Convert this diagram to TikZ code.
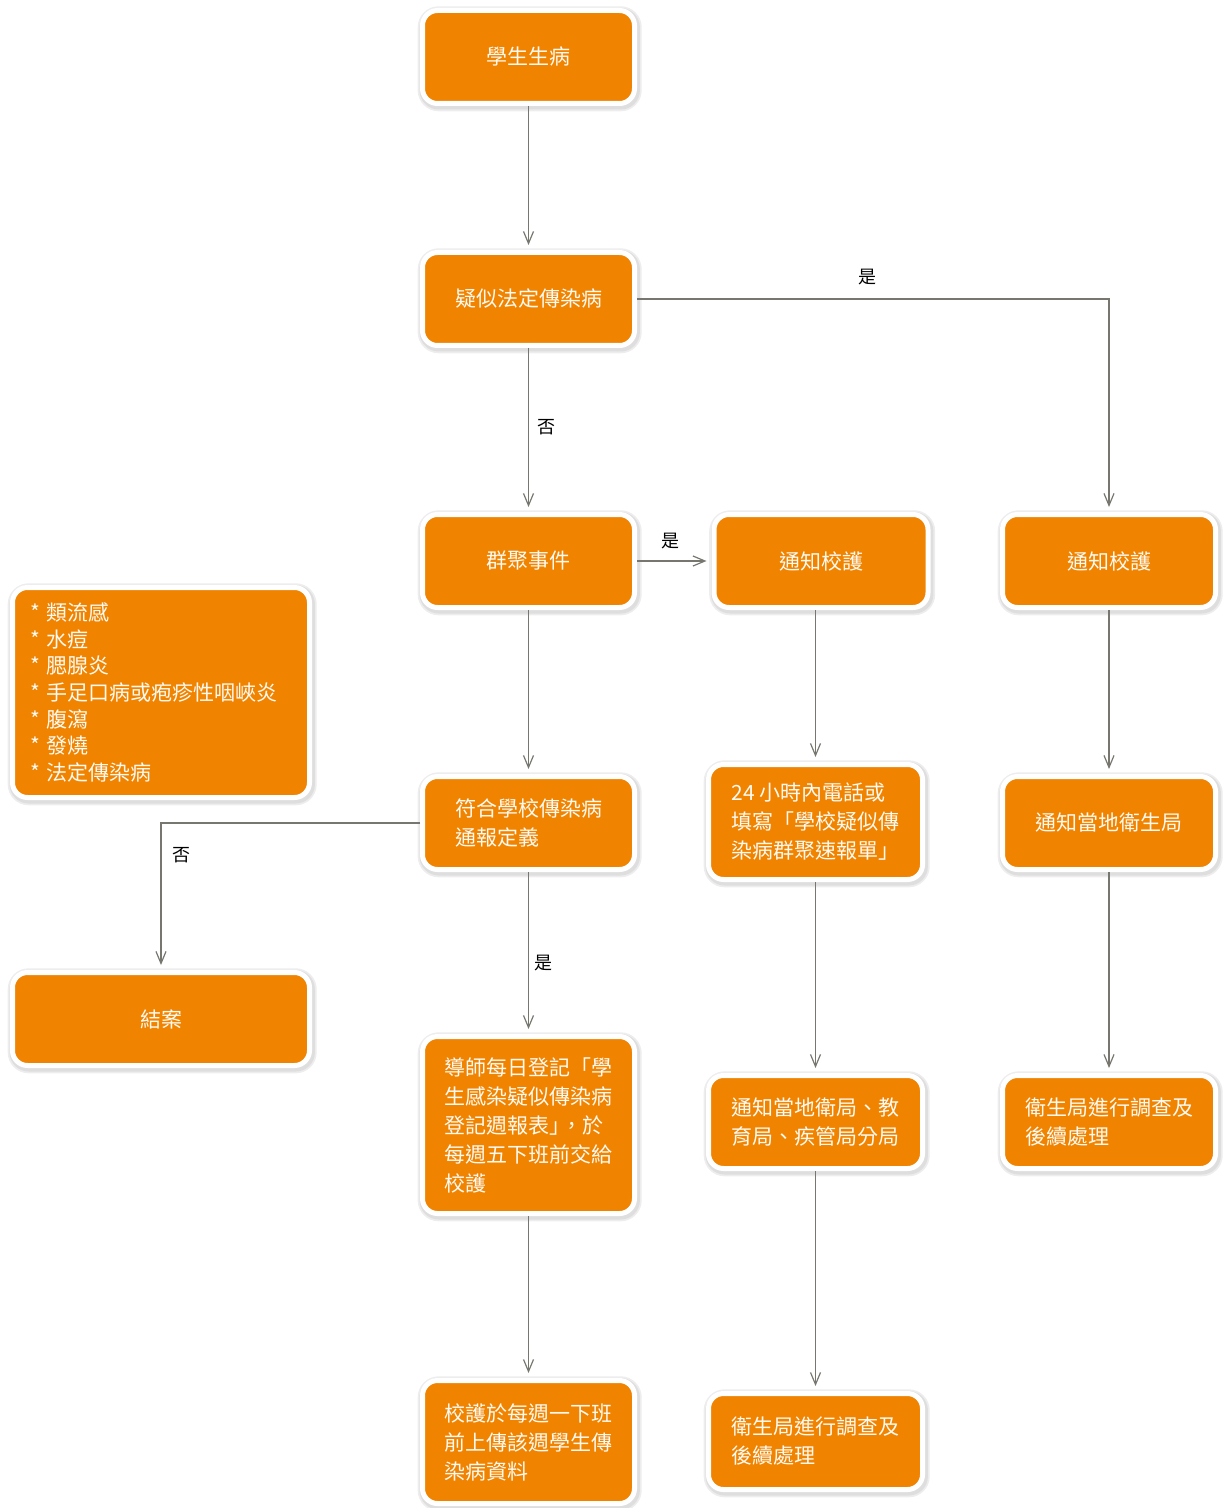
\documentclass[tikz,border=0pt]{standalone}
\usepackage{fontspec}
\setmainfont{Noto Sans CJK TC}
\usepackage{tikz}
\usetikzlibrary{arrows.meta, positioning, shadows}
\definecolor{boxfill}{HTML}{F08300}
\definecolor{linegray}{HTML}{77776F}
\definecolor{boxtext}{HTML}{FFFAF2}
\tikzset{
  flowbox/.style={draw=white, line width=2.5pt, fill=boxfill, rounded corners=7.5pt,
    text=boxtext, font=\fontsize{10.5}{14.5}\selectfont, align=left, inner sep=0pt,
    minimum width=106pt, minimum height=46.5pt,
    general shadow={fill=black!7, draw=black!7, line width=6pt, shadow xshift=0.6pt, shadow yshift=-0.9pt},
    general shadow={fill=black!13, draw=black!13, line width=4.2pt, shadow xshift=0.6pt, shadow yshift=-0.9pt}},
  listbox/.style={flowbox, font=\fontsize{10.5}{13.3}\selectfont, text width=131pt, minimum width=148.5pt, minimum height=105pt},
  flowarrow/.style={draw=linegray, line width=0.6pt, -{Straight Barb[length=6pt, width=5pt]}, shorten >=2.5pt},
  flowlabel/.style={font=\fontsize{9}{10}\selectfont, text=black},
}

\begin{document}
\begin{tikzpicture}[x=0.5pt, y=-0.5pt]
    \useasboundingbox (0,0) rectangle (1224,1508);
    % Centre column
    \node[flowbox] (sick) at (528.5,57) {學生生病};
    \node[flowbox] (suspect) at (528.5,299) {疑似法定傳染病};
    \node[flowbox] (cluster) at (528.5,561) {群聚事件};
    \node[flowbox] (define) at (528.5,823) {符合學校傳染病\\通報定義};
    \node[flowbox, minimum height=88.5pt] (tutor) at (528.5,1125) {導師每日登記「學\\生感染疑似傳染病\\登記週報表」\kern-0.45em，於\\每週五下班前交給\\校護};
    \node[flowbox, minimum height=61.5pt] (nurse) at (528.5,1442) {校護於每週一下班\\前上傳該週學生傳\\染病資料};
    % Middle column
    \node[flowbox, minimum width=107pt] (notifyA) at (821,561) {通知校護};
    \node[flowbox, minimum width=107pt, minimum height=57.5pt] (phone) at (815.5,822) {24 小時內電話或\\填寫「學校疑似傳\\染病群聚速報單」};
    \node[flowbox, minimum width=107pt] (agencies) at (815.5,1122) {通知當地衛局、教\\育局、疾管局分局};
    \node[flowbox, minimum width=107pt, minimum height=48pt] (investA) at (815.5,1441.5) {衛生局進行調查及\\後續處理};
    % Right column
    \node[flowbox, minimum width=106.5pt] (notifyB) at (1109,561) {通知校護};
    \node[flowbox, minimum width=106.5pt] (healthB) at (1109,823) {通知當地衛生局};
    \node[flowbox, minimum width=106.5pt] (investB) at (1109,1122) {衛生局進行調查及\\後續處理};
    % Left column
    \node[listbox] (diseases) at (161,692.5) {{*} 類流感\\{*} 水痘\\{*} 腮腺炎\\{*} 手足口病或疱疹性咽峽炎\\{*} 腹瀉\\{*} 發燒\\{*} 法定傳染病};
    \node[flowbox, minimum width=148.5pt] (close) at (161,1019) {結案};
    % Connectors
    \draw[flowarrow] (sick) -- (suspect);
    \draw[flowarrow] (suspect) -- (cluster);
    \draw[flowarrow] (suspect.east) -| (notifyB.north);
    \draw[flowarrow] (cluster) -- (notifyA);
    \draw[flowarrow] (cluster) -- (define);
    \draw[flowarrow] (define.west) -| (close.north);
    \draw[flowarrow] (define) -- (tutor);
    \draw[flowarrow] (tutor) -- (nurse);
    \draw[flowarrow] (notifyA.south -| phone.north) -- (phone.north);
    \draw[flowarrow] (phone) -- (agencies);
    \draw[flowarrow] (agencies) -- (investA);
    \draw[flowarrow] (notifyB) -- (healthB);
    \draw[flowarrow] (healthB) -- (investB);
    % Labels
    \node[flowlabel] (yesA) at (867,277) {是};
    \node[flowlabel] (noA) at (546,427) {否};
    \node[flowlabel] (yesB) at (670,541) {是};
    \node[flowlabel] (noB) at (181,855) {否};
    \node[flowlabel] (yesC) at (543,963) {是};
\end{tikzpicture}
\end{document}
